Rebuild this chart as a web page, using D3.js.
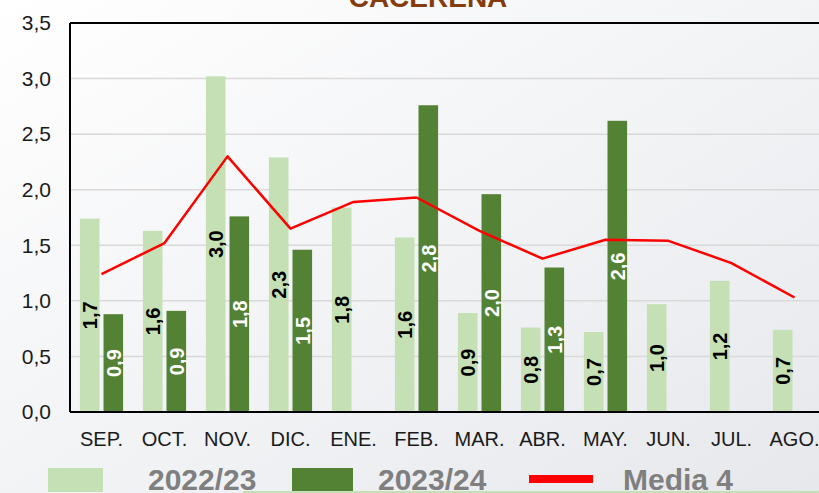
<!DOCTYPE html>
<html>
<head>
<meta charset="utf-8">
<script src="https://cdn.jsdelivr.net/npm/d3@7"></script>
<style>
  html, body { margin: 0; padding: 0; overflow: hidden; }
  svg { display: block; }
</style>
</head>
<body>
<svg id="chart" width="819" height="493"></svg>
<script>
// Monthly values per campaign and the 4-year average
const months = ["SEP.", "OCT.", "NOV.", "DIC.", "ENE.", "FEB.", "MAR.", "ABR.", "MAY.", "JUN.", "JUL.", "AGO."];
const season2223 = [1.74, 1.63, 3.02, 2.29, 1.84, 1.57, 0.89, 0.76, 0.72, 0.97, 1.18, 0.74];
const season2324 = [0.88, 0.91, 1.76, 1.46, null, 2.76, 1.96, 1.30, 2.62, null, null, null];
const media4 = [1.24, 1.52, 2.30, 1.65, 1.89, 1.93, 1.63, 1.38, 1.55, 1.54, 1.34, 1.03];
const yTicks = [0, 0.5, 1.0, 1.5, 2.0, 2.5, 3.0, 3.5];
const seriesNames = ["2022/23", "2023/24", "Media 4"];
const title = "CACEREÑA";

const W = 819, H = 493;
const plot = { left: 70, right: 826, top: 23, bottom: 412 };
const colLight = "#c5e0b4", colDark = "#548235", colRed = "#ff0000";

const svg = d3.select("#chart");
const fmt = v => v.toFixed(1).replace(".", ",");

// Background gradient
const defs = svg.append("defs");
const grad = defs.append("linearGradient").attr("id", "bg")
  .attr("x1", "0").attr("y1", "0").attr("x2", "1").attr("y2", "1");
grad.append("stop").attr("offset", "0%").attr("stop-color", "#ffffff");
grad.append("stop").attr("offset", "100%").attr("stop-color", "#e6e8ec");
svg.append("rect").attr("width", W).attr("height", H).attr("fill", "url(#bg)");

// Scales
const x = d3.scaleBand().domain(months).range([plot.left, plot.right]).padding(0);
const xs = d3.scaleBand().domain(["a", "b"]).range([0, x.bandwidth()])
  .paddingInner(0.17).paddingOuter(0.42);
const y = d3.scaleLinear().domain([0, 3.5]).range([plot.bottom, plot.top]);

// Gridlines
svg.append("g").selectAll("line").data(yTicks.filter(t => t > 0 && t < 3.5)).join("line")
  .attr("x1", plot.left).attr("x2", W)
  .attr("y1", d => y(d)).attr("y2", d => y(d))
  .attr("stroke", "#d9d9d9").attr("stroke-width", 1.5);

// Bars
const light = months.map((m, i) => ({ m, v: season2223[i] })).filter(d => d.v != null);
const dark = months.map((m, i) => ({ m, v: season2324[i] })).filter(d => d.v != null);

svg.append("g").selectAll("rect").data(light).join("rect")
  .attr("x", d => x(d.m) + xs("a")).attr("width", xs.bandwidth())
  .attr("y", d => y(d.v)).attr("height", d => y(0) - y(d.v))
  .attr("fill", colLight);

svg.append("g").selectAll("rect").data(dark).join("rect")
  .attr("x", d => x(d.m) + xs("b")).attr("width", xs.bandwidth())
  .attr("y", d => y(d.v)).attr("height", d => y(0) - y(d.v))
  .attr("fill", colDark);

// Bar value labels, rotated and centred inside each bar
function barLabels(data, key, color) {
  svg.append("g").selectAll("text").data(data).join("text")
    .attr("transform", d => {
      const cx = x(d.m) + xs(key) + xs.bandwidth() / 2;
      const cy = (y(d.v) + y(0)) / 2;
      return `translate(${cx},${cy}) rotate(-90)`;
    })
    .attr("text-anchor", "middle").attr("dy", "0.36em")
    .attr("font-family", "Liberation Sans, Arial, sans-serif")
    .attr("font-weight", "bold").attr("font-size", 20)
    .attr("fill", color)
    .text(d => fmt(d.v));
}

// Average line
const line = d3.line().x((d, i) => x(months[i]) + x.bandwidth() / 2).y(d => y(d));
svg.append("path").datum(media4).attr("d", line)
  .attr("fill", "none").attr("stroke", colRed).attr("stroke-width", 2.5)
  .attr("stroke-linejoin", "round");

barLabels(light, "a", "#000000");
barLabels(dark, "b", "#ffffff");

// Frame: left, top and bottom lines
svg.append("line").attr("x1", plot.left).attr("x2", plot.left)
  .attr("y1", plot.top).attr("y2", plot.bottom).attr("stroke", "#000").attr("stroke-width", 2);
svg.append("line").attr("x1", plot.left).attr("x2", W)
  .attr("y1", plot.top).attr("y2", plot.top).attr("stroke", "#000").attr("stroke-width", 2);
svg.append("line").attr("x1", plot.left).attr("x2", W)
  .attr("y1", plot.bottom).attr("y2", plot.bottom).attr("stroke", "#000").attr("stroke-width", 2);

// Y axis labels
const yAxis = d3.axisLeft(y).tickValues(yTicks).tickFormat(fmt).tickSize(0).tickPadding(19);
const gy = svg.append("g").attr("transform", `translate(${plot.left},0)`).call(yAxis);
gy.select(".domain").remove();
gy.selectAll("text").attr("font-family", "Liberation Sans, Arial, sans-serif")
  .attr("font-size", 21).attr("fill", "#1a1a1a");

// X axis labels
const xAxis = d3.axisBottom(x).tickSize(0).tickPadding(20);
const gx = svg.append("g").attr("transform", `translate(0,${plot.bottom})`).call(xAxis);
gx.select(".domain").remove();
gx.selectAll("text").attr("font-family", "Liberation Sans, Arial, sans-serif")
  .attr("font-size", 20).attr("fill", "#1a1a1a");

// Title
svg.append("text").attr("x", 428).attr("y", 7).attr("text-anchor", "middle")
  .attr("font-family", "Liberation Sans, Arial, sans-serif").attr("font-weight", "bold")
  .attr("font-size", 28).attr("fill", "#843c0c").text(title);

// Legend
const lg = svg.append("g");
lg.append("rect").attr("x", 48).attr("y", 468).attr("width", 55).attr("height", 24).attr("fill", colLight);
lg.append("rect").attr("x", 292).attr("y", 468).attr("width", 61).attr("height", 24).attr("fill", colDark);
lg.append("rect").attr("x", 529).attr("y", 475).attr("width", 64).attr("height", 8).attr("fill", colRed);
const legendText = [[148, seriesNames[0]], [378, seriesNames[1]], [623, seriesNames[2]]];
lg.selectAll("text").data(legendText).join("text")
  .attr("x", d => d[0]).attr("y", 490)
  .attr("font-family", "Liberation Sans, Arial, sans-serif").attr("font-weight", "bold")
  .attr("font-size", 30).attr("fill", "#7f7f7f")
  .text(d => d[1]);
svg.append("line").attr("x1", 243).attr("x2", W).attr("y1", 492).attr("y2", 492)
  .attr("stroke", colLight).attr("stroke-width", 2);
</script>
</body>
</html>
